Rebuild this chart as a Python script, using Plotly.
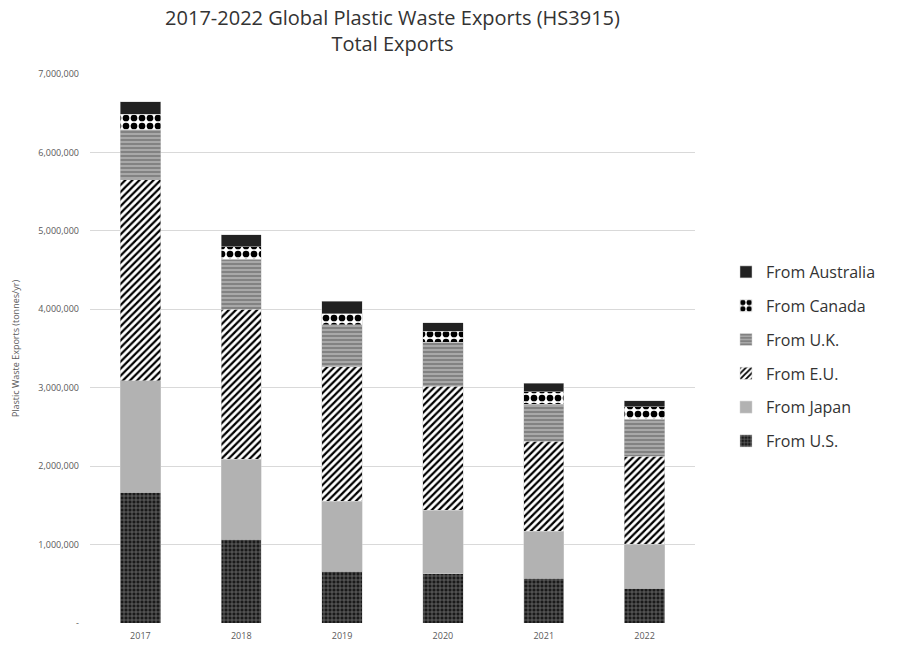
import plotly.graph_objects as go

years = ["2017", "2018", "2019", "2020", "2021", "2022"]
us = [1670000, 1070000, 660000, 625000, 570000, 445000]
japan = [1420000, 1020000, 890000, 815000, 600000, 560000]
eu = [2560000, 1910000, 1720000, 1580000, 1150000, 1120000]
uk = [640000, 640000, 530000, 560000, 470000, 470000]
canada = [200000, 160000, 140000, 140000, 160000, 165000]
australia = [155000, 150000, 160000, 110000, 110000, 75000]

ytickvals = [0, 1000000, 2000000, 3000000, 4000000, 5000000, 6000000, 7000000]
yticktext = ["-", "1,000,000", "2,000,000", "3,000,000", "4,000,000", "5,000,000", "6,000,000", "7,000,000"]

series = [
    ("From U.S.", us, dict(color="#1a1a1a", pattern=dict(shape="+", fgcolor="#707070", bgcolor="#1a1a1a", fgopacity=1, size=4, solidity=0.35))),
    ("From Japan", japan, dict(color="#b2b2b2")),
    ("From E.U.", eu, dict(color="white", pattern=dict(shape="/", fgcolor="#000000", bgcolor="white", fgopacity=1, size=5, solidity=0.45))),
    ("From U.K.", uk, dict(color="#a8a8a8", pattern=dict(shape="-", fgcolor="#787878", bgcolor="#a8a8a8", fgopacity=1, size=4, solidity=0.4))),
    ("From Canada", canada, dict(color="white", pattern=dict(shape=".", fgcolor="#000000", bgcolor="white", fgopacity=1, size=8, solidity=0.55))),
    ("From Australia", australia, dict(color="#222222")),
]

fig = go.Figure()
n = len(series)
for i, (name, vals, marker) in enumerate(series):
    marker = dict(marker)
    marker["line"] = dict(color="#d0d0d0", width=0.5)
    fig.add_trace(go.Bar(x=years, y=vals, name=name, marker=marker,
                         legendgroup="g%d" % (n - i), legendrank=n - i, width=0.4))

fig.update_layout(
    barmode="stack",
    width=899, height=647,
    margin=dict(l=90, r=204, t=74, b=24),
    paper_bgcolor="white", plot_bgcolor="white",
    font=dict(family="Open Sans, Liberation Sans, sans-serif", color="#595959"),
    title=dict(
        text="2017-2022 Global Plastic Waste Exports (HS3915)<br>Total Exports",
        x=0.5, xanchor="center", xref="paper", y=1 - 25 / 647, yanchor="middle",
        font=dict(size=20, color="#333333"),
    ),
    legend=dict(
        xref="container", x=726 / 899, xanchor="left",
        yref="container", y=1 - 255 / 647, yanchor="top",
        traceorder="grouped", tracegroupgap=10,
        font=dict(size=16, color="#333333"),
        itemwidth=30,
    ),
    showlegend=True,
)
fig.update_xaxes(showgrid=False, showline=False, tickfont=dict(size=9, color="#595959"), ticks="", ticklabelstandoff=6, automargin=False)
fig.update_yaxes(
    range=[0, 7000000], tickvals=ytickvals, ticktext=yticktext,
    showgrid=True, gridcolor="#d9d9d9", gridwidth=1, zeroline=False,
    tickfont=dict(size=9, color="#595959"),
    title=dict(text="Plastic Waste Exports (tonnes/yr)", font=dict(size=9, color="#595959"), standoff=17),
    ticks="", ticklen=0, ticklabelstandoff=10,
)

fig.write_html("out.html")
